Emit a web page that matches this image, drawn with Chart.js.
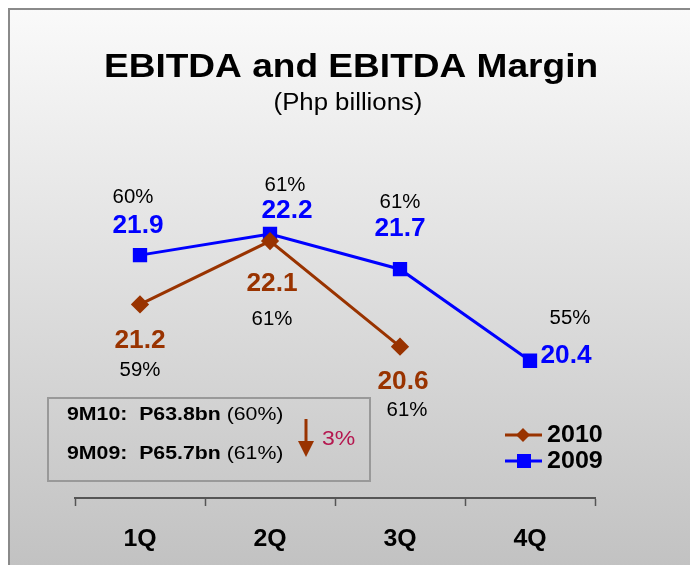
<!DOCTYPE html>
<html>
<head>
<meta charset="utf-8">
<script src="https://cdn.jsdelivr.net/npm/chart.js@4.4.1/dist/chart.umd.min.js"></script>
<style>
  html, body { margin: 0; padding: 0; background: #fff; }
  #wrap { width: 690px; height: 565px; }
</style>
</head>
<body>
<div id="wrap"><canvas id="ebitdaChart" width="690" height="565"></canvas></div>
<script>
// chart data
var quarters = ["1Q", "2Q", "3Q", "4Q"];
var ebitda2010 = [21.2, 22.1, 20.6];
var ebitda2009 = [21.9, 22.2, 21.7, 20.4];
var margin2010 = ["59%", "61%", "61%"];
var margin2009 = ["60%", "61%", "61%", "55%"];
var boxLines = [
  ["9M10:  P63.8bn", " (60%)"],
  ["9M09:  P65.7bn", " (61%)"]
];
var changeText = "3%";

var brown = "#993300";
var blue = "#0000ff";
var FONT = "'Liberation Sans', Arial, sans-serif";

// label offsets (dx, dy) from each point: [value, margin]
var off2009 = [
  [[-2, -29], [-7, -58]],
  [[17, -23], [15, -49]],
  [[0, -40], [0, -67]],
  [[36, -5], [40, -42]]
];
var off2010 = [
  [[0, 37], [0, 66]],
  [[2, 43], [2, 78]],
  [[3, 35], [7, 64]]
];

// the original text is drawn slightly wide, so stretch it a little
function wideText(ctx, txt, x, y, font, color, align, stretch) {
  stretch = stretch || 1.08;
  ctx.save();
  ctx.font = font;
  ctx.fillStyle = color;
  ctx.textAlign = align || "center";
  ctx.textBaseline = "middle";
  ctx.translate(x, y);
  ctx.scale(stretch, 1);
  ctx.fillText(txt, 0, 0);
  var w = ctx.measureText(txt).width * stretch;
  ctx.restore();
  return w;
}

var backgroundPlugin = {
  id: "bg",
  beforeDraw: function(chart) {
    var ctx = chart.ctx;
    ctx.save();
    ctx.fillStyle = "#ffffff";
    ctx.fillRect(0, 0, chart.width, chart.height);
    var g = ctx.createLinearGradient(0, 8, 0, chart.height);
    g.addColorStop(0, "#fafafa");
    g.addColorStop(1, "#c2c2c2");
    ctx.fillStyle = g;
    ctx.fillRect(9, 9, chart.width, chart.height);
    ctx.strokeStyle = "#8a8a8a";
    ctx.lineWidth = 2;
    ctx.beginPath();
    ctx.moveTo(9, chart.height + 2);
    ctx.lineTo(9, 9);
    ctx.lineTo(chart.width + 2, 9);
    ctx.stroke();
    ctx.restore();

    // title
    wideText(ctx, "EBITDA and EBITDA Margin", 351, 68, "bold 34px " + FONT, "#000", "center", 1.09);
    wideText(ctx, "(Php billions)", 348, 104, "23px " + FONT, "#000", "center", 1.12);
  },
  afterDatasetsDraw: function(chart) {
    var ctx = chart.ctx;
    var xs = chart.scales.x;
    quarters.forEach(function(q, i) {
      wideText(ctx, q, xs.getPixelForValue(i), 540, "bold 23px " + FONT, "#000", "center", 1.08);
    });

    var m09 = chart.getDatasetMeta(1).data;
    var m10 = chart.getDatasetMeta(0).data;
    m09.forEach(function(pt, i) {
      wideText(ctx, ebitda2009[i].toFixed(1), pt.x + off2009[i][0][0], pt.y + off2009[i][0][1], "bold 25px " + FONT, blue, "center", 1.05);
      wideText(ctx, margin2009[i], pt.x + off2009[i][1][0], pt.y + off2009[i][1][1], "20px " + FONT, "#000", "center", 1.02);
    });
    m10.forEach(function(pt, i) {
      wideText(ctx, ebitda2010[i].toFixed(1), pt.x + off2010[i][0][0], pt.y + off2010[i][0][1], "bold 25px " + FONT, brown, "center", 1.05);
      wideText(ctx, margin2010[i], pt.x + off2010[i][1][0], pt.y + off2010[i][1][1], "20px " + FONT, "#000", "center", 1.02);
    });

    ctx.save();
    // summary box
    ctx.strokeStyle = "#999";
    ctx.lineWidth = 2;
    ctx.strokeRect(48, 398, 322, 83);
    var ys = [415, 454];
    boxLines.forEach(function(l, i) {
      var w = wideText(ctx, l[0], 67, ys[i], "bold 19px " + FONT, "#000", "left", 1.12);
      wideText(ctx, l[1], 67 + w, ys[i], "19px " + FONT, "#000", "left", 1.12);
    });
    // down arrow
    ctx.strokeStyle = brown;
    ctx.fillStyle = brown;
    ctx.lineWidth = 3;
    ctx.beginPath();
    ctx.moveTo(306, 419);
    ctx.lineTo(306, 442);
    ctx.stroke();
    ctx.beginPath();
    ctx.moveTo(298, 441);
    ctx.lineTo(314, 441);
    ctx.lineTo(306, 457);
    ctx.closePath();
    ctx.fill();
    wideText(ctx, changeText, 322, 439, "20px " + FONT, "#b5174f", "left", 1.15);

    // legend
    var leg = [[chart.data.datasets[0], 435], [chart.data.datasets[1], 461]];
    leg.forEach(function(l) {
      var ds = l[0], y = l[1];
      ctx.strokeStyle = ds.borderColor;
      ctx.lineWidth = 3;
      ctx.beginPath();
      ctx.moveTo(505, y);
      ctx.lineTo(542, y);
      ctx.stroke();
      ctx.fillStyle = ds.borderColor;
      if (ds.pointStyle === "rect") {
        ctx.fillRect(517, y - 7, 14, 14);
      } else {
        ctx.beginPath();
        ctx.moveTo(523, y - 7);
        ctx.lineTo(530, y);
        ctx.lineTo(523, y + 7);
        ctx.lineTo(516, y);
        ctx.closePath();
        ctx.fill();
      }
      wideText(ctx, ds.label, 547, y + 1, "bold 23px " + FONT, "#000", "left", 1.09);
    });
    ctx.restore();
  }
};

var ctx = document.getElementById("ebitdaChart");
var ebitdaChart = new Chart(ctx, {
  type: "line",
  data: {
    labels: quarters,
    datasets: [{
      label: "2010",
      data: ebitda2010,
      borderColor: brown,
      backgroundColor: brown,
      borderWidth: 3,
      pointStyle: "rectRot",
      pointRadius: 7,
      pointHoverRadius: 7,
      fill: false,
      tension: 0
    }, {
      label: "2009",
      data: ebitda2009,
      borderColor: blue,
      backgroundColor: blue,
      borderWidth: 3,
      pointStyle: "rect",
      pointRadius: 8,
      pointHoverRadius: 8,
      fill: false,
      tension: 0
    }]
  },
  options: {
    responsive: false,
    animation: false,
    events: [],
    layout: { padding: { left: 75, right: 95, top: 146, bottom: 0 } },
    plugins: {
      legend: { display: false },
      title: { display: false },
      tooltip: { enabled: false }
    },
    scales: {
      x: {
        offset: true,
        grid: {
          offset: true,
          drawOnChartArea: false,
          drawTicks: true,
          tickLength: 8,
          tickColor: "#555",
          tickWidth: 1.5
        },
        border: { display: true, color: "#555", width: 2 },
        ticks: { display: false },
        afterFit: function(s) { s.height = 67; }
      },
      y: {
        display: false,
        min: 18.45,
        max: 23.45
      }
    }
  },
  plugins: [backgroundPlugin]
});
</script>
</body>
</html>
